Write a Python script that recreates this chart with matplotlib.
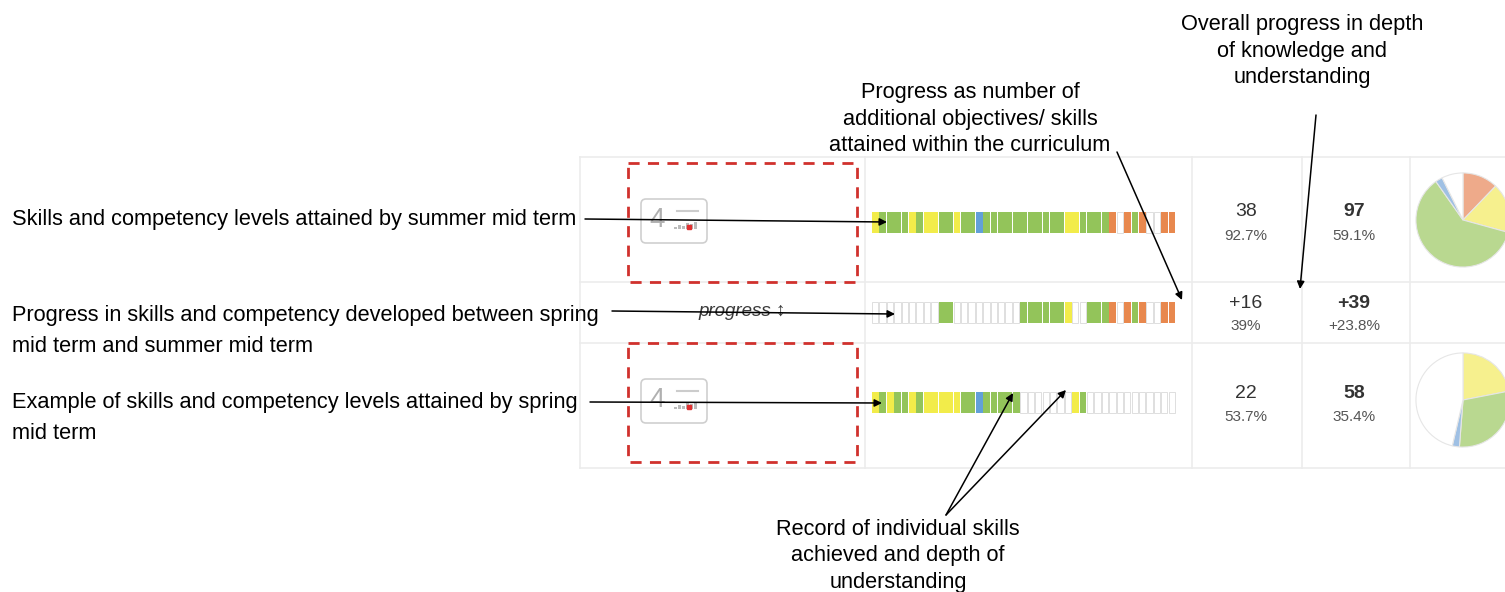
import matplotlib
matplotlib.use("Agg")
import matplotlib.pyplot as plt
from matplotlib.patches import FancyBboxPatch, Rectangle
import numpy as np

plt.rcParams['font.family'] = ['Liberation Sans', 'DejaVu Sans']

# ---------------- data ----------------
# Skill cell levels: Y=yellow, G=green, B=blue, O=orange, W=not attained
summer_cells = list("YGGGGYGYYGGYGGB" "GGGGGGGGGGG" "YY" "GGGG" "OWOGOWWOO")
progress_cells = list("WWWWWWWWWGG" "WWWWWWWWW" "GGGGGG" "Y" "WW" "GGG" "O" "W" "OGO" "WW" "OO")
spring_cells = list("YGYGGYGYYYYYGGB" "GGGGG" "WWWWWWW" "YG" "WWWWWWWWWWWW")

summer_count, summer_pct = "38", "92.7%"
summer_depth, summer_depth_pct = "97", "59.1%"
progress_count, progress_pct = "+16", "39%"
progress_depth, progress_depth_pct = "+39", "+23.8%"
spring_count, spring_pct = "22", "53.7%"
spring_depth, spring_depth_pct = "58", "35.4%"

pie_order = ["O", "Y", "G", "B", "W"]

label_summer = "Skills and competency levels attained by summer mid term"
label_progress = "Progress in skills and competency developed between spring\nmid term and summer mid term"
label_spring = "Example of skills and competency levels attained by spring\nmid term"
label_objectives = "Progress as number of\nadditional objectives/ skills\nattained within the curriculum"
label_depth = "Overall progress in depth\nof knowledge and\nunderstanding"
label_record = "Record of individual skills\nachieved and depth of\nunderstanding"

strip_colors = {"Y": "#f2ec4a", "G": "#93c45a", "B": "#62a0d8", "O": "#e8884e", "W": "white"}
pie_colors = {"Y": "#f6f08e", "G": "#b9d890", "B": "#9fc0e4", "O": "#eeaa8a", "W": "white"}

# ---------------- figure ----------------
W, H = 1505, 592
fig = plt.figure(figsize=(W / 100, H / 100), dpi=100)
ax = fig.add_axes([0, 0, 1, 1])
ax.set_xlim(0, W)
ax.set_ylim(H, 0)
ax.axis("off")

grid_c = "#ececec"
for yy in [157, 282, 343, 468]:
    ax.plot([580, W], [yy, yy], color=grid_c, lw=1.2, zorder=0)
for xx in [580, 865, 1192, 1302, 1410]:
    ax.plot([xx, xx], [157, 468], color=grid_c, lw=1.2, zorder=0)

# red dashed boxes
for y0, y1 in [(163, 282), (343, 462)]:
    ax.add_patch(Rectangle((628, y0), 229, y1 - y0, fill=False, ec="#d0312d",
                           lw=2, ls=(0, (4, 3)), zorder=3))

# badges
badge_bars = [2, 4, 3, 6, 5, 7]
for yc in [221, 401]:
    ax.add_patch(FancyBboxPatch((641, yc - 22), 66, 44, boxstyle="round,pad=0,rounding_size=5",
                                fc="white", ec="#cfcfcf", lw=1.2, zorder=2))
    ax.text(649, yc - 1, "4", fontsize=20, color="#b0b0b0", ha="left", va="center", zorder=3)
    ax.plot([677, 698], [yc - 10, yc - 10], color="#cccccc", lw=1.5, zorder=3)
    bx = 674 + np.arange(len(badge_bars)) * 4
    ax.bar(bx, [-h for h in badge_bars], width=3, bottom=yc + 8, color="#bbbbbb", align="edge", zorder=3)
    ax.plot([689], [yc + 6], "s", ms=3, color="#e03030", zorder=4)

ax.text(742, 312, "progress \u2195", fontsize=13.5, style="italic", color="#3a3a3a",
        ha="center", va="center", zorder=3)

# strips
pitch = 304 / 41
x0 = 872
def draw_strip(cells, ytop, h):
    xs = x0 + np.arange(len(cells)) * pitch
    for i, c in enumerate(cells):
        if c == "W":
            ax.bar(xs[i], h, width=pitch * 0.85, bottom=ytop, align="edge",
                   color="white", ec="#dedede", lw=0.7, zorder=2)
        else:
            ax.bar(xs[i], h, width=pitch * 0.92, bottom=ytop, align="edge",
                   color=strip_colors[c], ec="none", zorder=2)

draw_strip(summer_cells, 212, 21)
draw_strip(progress_cells, 302, 21)
draw_strip(spring_cells, 392, 21)

# numbers
for (c, p, d, dp, ya, yb) in [
        (summer_count, summer_pct, summer_depth, summer_depth_pct, 212, 236),
        (progress_count, progress_pct, progress_depth, progress_depth_pct, 304, 326),
        (spring_count, spring_pct, spring_depth, spring_depth_pct, 393, 417)]:
    ax.text(1246, ya, c, fontsize=14, color="#333333", ha="center", va="center")
    ax.text(1246, yb, p, fontsize=11, color="#555555", ha="center", va="center")
    ax.text(1354, ya, d, fontsize=14, fontweight="bold", color="#333333", ha="center", va="center")
    ax.text(1354, yb, dp, fontsize=11, color="#555555", ha="center", va="center")

# pies
def draw_pie(cells, cx, cy, r):
    counts = [cells.count(k) for k in pie_order]
    pax = fig.add_axes([(cx - r) / W, (H - cy - r) / H, 2 * r / W, 2 * r / H])
    pax.pie(counts, colors=[pie_colors[k] for k in pie_order], startangle=90,
            counterclock=False, radius=1,
            wedgeprops=dict(edgecolor="#e6e6e6", linewidth=0.8))
    pax.set_xlim(-1.02, 1.02)
    pax.set_ylim(-1.02, 1.02)
    pax.axis("off")

draw_pie(summer_cells, 1463, 220, 48)
draw_pie(spring_cells, 1463, 400, 48)

# annotation texts
fs = 15.7
ax.text(12, 219, label_summer, fontsize=fs, ha="left", va="center", linespacing=1.65)
ax.text(12, 331, label_progress, fontsize=fs, ha="left", va="center", linespacing=1.65)
ax.text(12, 418, label_spring, fontsize=fs, ha="left", va="center", linespacing=1.65)
ax.text(970, 119, label_objectives, fontsize=fs, ha="center", va="center", linespacing=1.35)
ax.text(1302, 51, label_depth, fontsize=fs, ha="center", va="center", linespacing=1.35)
ax.text(898, 556, label_record, fontsize=fs, ha="center", va="center", linespacing=1.35)

arrow_kw = dict(arrowstyle="-|>", lw=1.1, color="black", mutation_scale=11, shrinkA=0, shrinkB=0)
arrows = [((585, 219), (887, 222)), ((612, 311), (895, 314)), ((590, 402), (882, 403)),
          ((1117, 152), (1182, 300)), ((1316, 115), (1300, 289)),
          ((946, 515), (1013, 393)), ((946, 515), (1066, 390))]
for s, e in arrows:
    ax.annotate("", xy=e, xytext=s, arrowprops=arrow_kw, zorder=5)

fig.savefig("out.png", dpi=100)
